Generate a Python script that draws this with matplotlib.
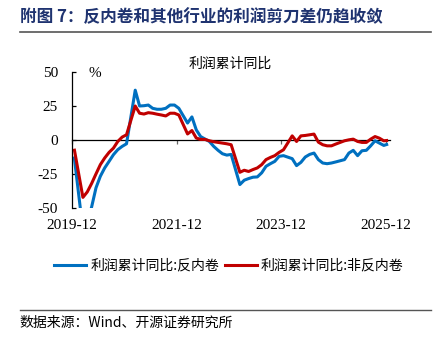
import numpy as np
import matplotlib
matplotlib.use('Agg')
import matplotlib.pyplot as plt
from matplotlib.lines import Line2D

plt.rcParams['font.family'] = ['Noto Sans CJK SC', 'DejaVu Sans']
plt.rcParams['axes.unicode_minus'] = False

# monthly cumulative data, January not reported (Jan-Feb combined)
months = ['2019-12'] + [f'{y}-{m:02d}' for y in range(2020, 2026) for m in range(2, 13)]

anti_involution = [
    -12,
    -66, -60, -49, -35, -26.5, -20.4, -15.6, -10.7, -7, -4.6, -2.7,
    36.6, 25, 25.2, 25.7, 23.3, 22.6, 22.6, 23.3, 25.7, 25.7, 23.3,
    12.5, 17, 7.5, 2.6, 0.8, -1, -4.6, -7.5, -10, -11, -10.5,
    -32.6, -29.4, -28.2, -27.2, -27, -24, -19.2, -17.3, -15.6, -11.9, -11.4,
    -13.6, -18.7, -16.3, -12.4, -10.5, -9.5, -14.3, -16.8, -17.3, -16.8, -16,
    -14.3, -9.5, -7.5, -11.4, -7.8, -7.5, -4.2, -0.5, -2.2, -3.9, -2.9,
]
others = [
    -6.3,
    -42, -38, -31.8, -24.8, -18, -13.1, -9, -5.9, -1, 2.2, 3.9,
    25, 19.7, 19.1, 20.1, 19.7, 19, 18.4, 17.7, 19.7, 19.7, 18.4,
    4.5, 7, 1.5, 0.5, 0.5, -0.5, -1.2, -1.7, -2.2, -2.7, -3.4,
    -23.6, -22.1, -23, -21.6, -20.4, -18, -14.3, -12.7, -11.4, -9, -7.1,
    3.1, -1, 3.1, 3.4, 3.9, 4.4, -1.5, -3.4, -4.2, -4.2, -2.9,
    -0.5, 0.2, 0.7, -1, -1.7, -1.7, 0.7, 2.6, 1.4, -0.5, -0.2,
]
tick_labels = ['2019-12', '2021-12', '2023-12', '2025-12']
yticks = [-50, -25, 0, 25, 50]

BLUE = '#0070C0'
RED = '#C00000'
SERIF = 'Liberation Serif'


def month_index(s):
    y, m = map(int, s.split('-'))
    return (y - 2019) * 12 + (m - 12)


# points sit in the middle of their month slot
xs = np.array([month_index(s) for s in months]) + 0.5
tick_pos = [month_index(s) for s in tick_labels]

fig = plt.figure(figsize=(4.33, 3.43), dpi=100)
ax = fig.add_axes([0.1663, 0.3927, 0.7351, 0.3977])

ax.plot(xs, anti_involution, color=BLUE, lw=2.2, solid_capstyle='butt')
ax.plot(xs, others, color=RED, lw=2.2, solid_capstyle='butt')

ax.set_xlim(0, 73)
ax.set_ylim(-50, 50)

ax.spines['top'].set_visible(False)
ax.spines['right'].set_visible(False)
ax.spines['bottom'].set_visible(False)
ax.spines['left'].set_linewidth(0.9)

ax.set_yticks(yticks)
ax.set_yticklabels([str(v) for v in yticks], fontfamily=SERIF, fontsize=11)
ax.tick_params(axis='y', direction='in', length=3, width=0.9, pad=10)

ax.set_xticks(tick_pos)
ax.set_xticklabels(tick_labels, fontfamily=SERIF, fontsize=11)
ax.tick_params(axis='x', length=0, pad=8)

# zero line with small upward ticks
zero = ax.secondary_xaxis(0.5)
zero.set_xticks(tick_pos)
zero.tick_params(direction='in', length=3, width=0.9, labelbottom=False,
                 labeltop=False, color='#666666')
zero.spines['bottom'].set_linewidth(0.9)
zero.spines['top'].set_linewidth(0.9)

ax.text(0.072, 0.99, '%', transform=ax.transAxes, fontfamily=SERIF,
        fontsize=11, ha='center', va='center')

fig.text(0.531, 0.813, '利润累计同比', fontsize=10, ha='center', va='center')

fig.text(0.046, 0.950, '附图 7：反内卷和其他行业的利润剪刀差仍趋收敛',
         fontsize=12, fontweight='bold', color='#1F3370', ha='left', va='center')
fig.add_artist(Line2D([0.046, 0.995], [0.906, 0.906], color='#555555', lw=1.2))

handles = [Line2D([], [], color=BLUE, lw=2.2), Line2D([], [], color=RED, lw=2.2)]
fig.legend(handles, ['利润累计同比:反内卷', '利润累计同比:非反内卷'],
           loc='center', bbox_to_anchor=(0.529, 0.225), ncol=2, frameon=False,
           fontsize=10, handlelength=2.3, handletextpad=0.3, columnspacing=0.4)

fig.add_artist(Line2D([0.046, 0.995], [0.096, 0.096], color='#555555', lw=1.0))
fig.text(0.046, 0.059, '数据来源：Wind、开源证券研究所', fontsize=10,
         ha='left', va='center')

fig.savefig('out.png', dpi=100)
